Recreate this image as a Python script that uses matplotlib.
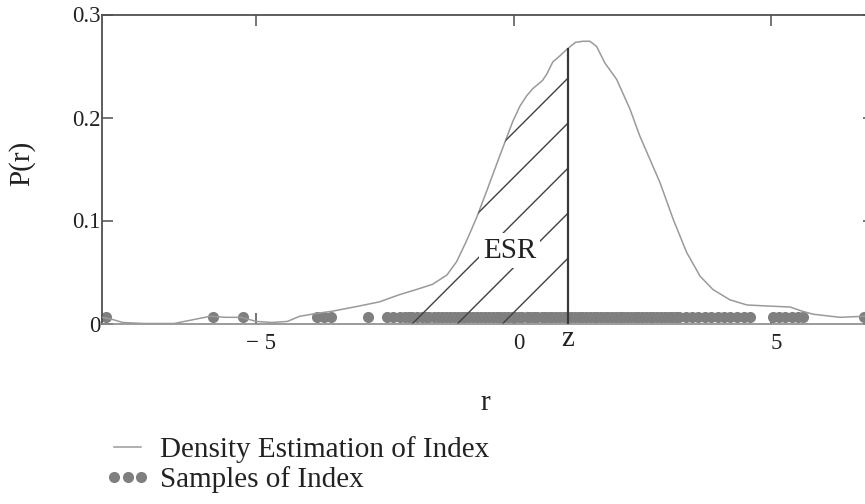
import numpy as np
import matplotlib
matplotlib.use("Agg")
import matplotlib.pyplot as plt
import matplotlib.transforms as mtransforms
from matplotlib.patches import Polygon

plt.rcParams['font.family'] = ['Liberation Serif', 'DejaVu Serif']

# density estimate
r_grid = [-8.0, -7.8, -7.6, -7.2, -6.6, -6.2, -5.9, -5.6, -5.3, -5.0, -4.7,
          -4.4, -4.16, -3.8, -3.52, -3.0, -2.61, -2.22, -1.89, -1.58, -1.30,
          -1.11, -0.91, -0.72, -0.53, -0.27, -0.02, 0.12, 0.25, 0.37, 0.56,
          0.64, 0.76, 0.90, 1.05, 1.20, 1.34, 1.48, 1.61, 1.77, 2.00, 2.26,
          2.45, 2.84, 3.10, 3.36, 3.62, 3.87, 4.20, 4.53, 4.92, 5.37, 5.60,
          5.82, 6.34, 6.80, 7.0]
density = [0.006, 0.004, 0.001, 0.0, 0.0, 0.004, 0.007, 0.006, 0.006, 0.002,
           0.001, 0.002, 0.007, 0.010, 0.012, 0.017, 0.021, 0.028, 0.033,
           0.038, 0.047, 0.060, 0.081, 0.103, 0.128, 0.163, 0.196, 0.211,
           0.221, 0.228, 0.236, 0.242, 0.254, 0.260, 0.267, 0.273, 0.274,
           0.274, 0.269, 0.253, 0.237, 0.208, 0.182, 0.137, 0.101, 0.069,
           0.046, 0.033, 0.023, 0.018, 0.017, 0.016, 0.012, 0.009, 0.006,
           0.007, 0.007]

# observed index samples
samples = [-7.92, -5.85, -5.27, -3.83, -3.68, -3.55, -2.84, -2.47, -2.35,
           -2.21, -2.12, -2.03, -1.97, -1.88, -1.79, -1.71, -1.64, -1.55,
           -1.47, -1.40, -1.31, -1.24, -1.16, -1.09, -1.01, -0.94, -0.86,
           -0.79, -0.71, -0.63, -0.56, -0.48, -0.41, -0.33, -0.26, -0.18,
           -0.11, -0.04, 0.03, 0.10, 0.17, 0.25, 0.32, 0.39, 0.46, 0.54,
           0.61, 0.68, 0.75, 0.83, 0.90, 0.97, 1.04, 1.11, 1.19, 1.26, 1.33,
           1.40, 1.48, 1.55, 1.62, 1.69, 1.77, 1.84, 1.91, 1.98, 2.06, 2.13,
           2.20, 2.28, 2.35, 2.42, 2.50, 2.57, 2.64, 2.71, 2.79, 2.86, 2.93,
           3.01, 3.08, 3.15, 3.22, 3.35, 3.47, 3.58, 3.71, 3.83, 3.96, 4.08,
           4.21, 4.34, 4.47, 4.60, 5.03, 5.15, 5.27, 5.40, 5.52, 5.63, 6.80]
sample_level = 0.006

z = 1.05
hatch_start = -2.22
xticks = [-5, 0, 5]
xtick_labels = ['\u2212 5', '0', '5']
yticks = [0, 0.1, 0.2, 0.3]
ytick_labels = ['0', '0.1', '0.2', '0.3']

r_grid = np.array(r_grid)
density = np.array(density)

fig = plt.figure(figsize=(8.65, 5.04), dpi=100)
ax = fig.add_axes([102/865, 1 - 323.5/504, 772/865, 309/504])
ax.set_xlim(-8, 7)
ax.set_ylim(0, 0.3)

ax.plot(samples, np.full(len(samples), sample_level), 'o', color='#7f7f7f',
        ms=8, mew=0, zorder=2, label='Samples of Index', clip_on=False)
ax.plot(r_grid, density, color='#9a9a9a', lw=1.1, zorder=3,
        label='Density Estimation of Index')

# ESR region: area under the curve between hatch_start and z
p_z = np.interp(z, r_grid, density)
p_s = np.interp(hatch_start, r_grid, density)
inside = (r_grid > hatch_start) & (r_grid < z)
verts = np.column_stack([np.r_[hatch_start, r_grid[inside], z, z, hatch_start],
                         np.r_[p_s, density[inside], p_z, 0, 0]])
region = Polygon(verts, closed=True, fill=False, edgecolor='none',
                 transform=ax.transData)
ax.add_patch(region)

slope = (772 / 15) / (309 / 0.3)   # 45 degrees on screen
for k in range(5):
    r0 = -0.214 - 0.875 * k
    rr = np.array([r0, z])
    ln, = ax.plot(rr, slope * (rr - r0), color='#404040', lw=1.0, zorder=4)
    ln.set_clip_path(region)

ax.vlines(z, 0, p_z, color='#383838', lw=1.6, zorder=5)
ax.text(-0.08, 0.064, 'ESR', ha='center', va='baseline', fontsize=21,
        color='#222222', zorder=6,
        bbox=dict(facecolor='white', edgecolor='none', pad=3))

for side in ['left', 'top', 'right']:
    ax.spines[side].set_color('#505050')
    ax.spines[side].set_linewidth(1.3)
ax.spines['bottom'].set_color('#8a8a8a')
ax.spines['bottom'].set_linewidth(1.2)

ax.set_xticks(xticks)
ax.set_xticklabels(xtick_labels)
ax.set_xticks([z], minor=True)
ax.set_xticklabels(['z'], minor=True)
ax.set_yticks(yticks)
ax.set_yticklabels(ytick_labels)
ax.tick_params(axis='both', which='major', direction='in', length=8,
               width=1.1, color='#505050', labelsize=16.5, labelcolor='#222222')
ax.tick_params(axis='x', which='major', top=True, pad=6.5)
ax.tick_params(axis='y', which='major', right=True, pad=1)
ax.tick_params(axis='x', which='minor', length=0, pad=1.5, labelsize=21,
               labelcolor='#222222')

# labels sit a little right of their ticks in the original
shift = mtransforms.ScaledTranslation(5/100, 0, fig.dpi_scale_trans)
for lab in ax.get_xticklabels():
    lab.set_transform(lab.get_transform() + shift)

ax.set_xlabel('r', fontsize=21, color='#222222', va='baseline')
ax.xaxis.set_label_coords(0.496, -0.28)
ax.set_ylabel('P(r)', fontsize=21, color='#222222', ha='center', va='center')
ax.yaxis.set_label_coords(-0.1036, 0.519)

h, l = ax.get_legend_handles_labels()
fig.legend(h[::-1], l[::-1], loc='upper left',
           bbox_to_anchor=(105/865, 1 - 436/504), frameon=False,
           borderpad=0, borderaxespad=0, handlelength=1.55,
           handletextpad=0.35, labelspacing=0.12, numpoints=3,
           prop={'size': 21}, labelcolor='#222222')

fig.savefig('out.png', dpi=100)
